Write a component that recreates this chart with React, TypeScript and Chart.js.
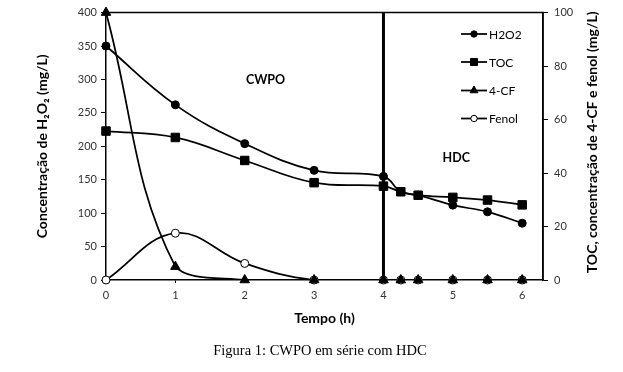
import React, { useEffect, useRef } from "react";
import { Chart, registerables } from "chart.js";
Chart.register(...registerables);

const times = [0, 1, 2, 3, 4, 4.25, 4.5, 5, 5.5, 6];
const h2o2 = [350, 262, 204, 164, 155, 132, 127, 112, 102, 85];
const toc = [55.7, 53.3, 44.7, 36.4, 35.1, 33, 31.7, 30.9, 29.9, 28.1];
const cf4 = [100, 5, 0, 0, 0, 0, 0, 0, 0, 0];
const fenol = [0, 17.5, 6.2, 0, 0, 0, 0, 0, 0, 0];
const xTicks = [0, 1, 2, 3, 4, 5, 6];
const seriesNames = ["H2O2", "TOC", "4-CF", "Fenol"];
const stageLabels = ["CWPO", "HDC"];
const divisionTime = 4;
const caption = "Figura 1: CWPO em série com HDC";
const leftTitle = "Concentração de H₂O₂ (mg/L)";
const rightTitle = "TOC, concentração de 4-CF e fenol (mg/L)";
const xTitle = "Tempo (h)";

const FONT = "Lato, 'Open Sans', sans-serif";

const pts = (ys: number[]) => times.map((t, i) => ({ x: t, y: ys[i] }));

const styles = [
  { style: "circle", radius: 4, bg: "#000", legendR: 3.2 },
  { style: "rect", radius: 6, bg: "#000", legendR: 5 },
  { style: "triangle", radius: 5.5, bg: "#000", legendR: 4.5 },
  { style: "circle", radius: 4, bg: "#fff", legendR: 3.2 },
];

function drawMarker(ctx: CanvasRenderingContext2D, style: string, r: number, x: number, y: number, bg: string) {
  ctx.save();
  ctx.fillStyle = bg;
  ctx.strokeStyle = "#000";
  ctx.lineWidth = 1;
  ctx.beginPath();
  if (style === "circle") {
    ctx.arc(x, y, r, 0, Math.PI * 2);
  } else if (style === "rect") {
    const s = r * Math.SQRT1_2;
    ctx.rect(x - s, y - s, 2 * s, 2 * s);
  } else {
    const w = r * Math.cos(Math.PI / 6);
    ctx.moveTo(x, y - r);
    ctx.lineTo(x + w, y + r / 2);
    ctx.lineTo(x - w, y + r / 2);
    ctx.closePath();
  }
  ctx.fill();
  ctx.stroke();
  ctx.restore();
}

export default function App() {
  const ref = useRef<HTMLCanvasElement>(null);
  useEffect(() => {
    const canvas = ref.current!;
    const data = [h2o2, toc, cf4, fenol];
    const axes = ["y", "y1", "y1", "y1"];
    const pointSets = data.map((d, i) => ({
      label: seriesNames[i],
      data: pts(d),
      yAxisID: axes[i],
      showLine: false,
      pointStyle: styles[i].style,
      pointRadius: styles[i].radius,
      pointBackgroundColor: styles[i].bg,
      pointBorderColor: "#000",
      pointBorderWidth: 1,
      clip: false,
      order: 0,
    }));
    const lineSets = data.map((d, i) => ({
      label: seriesNames[i] + "_line",
      data: pts(d),
      yAxisID: axes[i],
      showLine: true,
      borderColor: "#000",
      borderWidth: 1.75,
      pointRadius: 0,
      tension: 0.4,
      order: 1,
    }));
    const divider = {
      label: "divider",
      data: [
        { x: divisionTime, y: 0 },
        { x: divisionTime, y: 400 },
      ],
      yAxisID: "y",
      showLine: true,
      borderColor: "#000",
      borderWidth: 3,
      pointRadius: 0,
      tension: 0,
      order: 2,
    };

    const decor = {
      id: "decor",
      beforeDatasetsDraw(chart: any) {
        const { ctx, chartArea: a } = chart;
        ctx.save();
        ctx.strokeStyle = "#000";
        ctx.lineWidth = 1.5;
        ctx.beginPath();
        ctx.moveTo(a.left, a.top);
        ctx.lineTo(a.right, a.top);
        ctx.lineTo(a.right, a.bottom);
        ctx.stroke();
        ctx.restore();
      },
      afterDraw(chart: any) {
        const { ctx, chartArea: a, scales } = chart;
        ctx.save();
        ctx.fillStyle = "#000";
        ctx.font = `bold 14px ${FONT}`;
        ctx.textAlign = "center";
        ctx.textBaseline = "middle";
        ctx.translate(592, (a.top + a.bottom) / 2 - 4);
        ctx.rotate(-Math.PI / 2);
        ctx.fillText(rightTitle, 0, 0);
        ctx.restore();

        ctx.save();
        ctx.fillStyle = "#000";
        ctx.font = `bold 12.5px ${FONT}`;
        ctx.textAlign = "center";
        ctx.textBaseline = "middle";
        ctx.fillText(stageLabels[0], scales.x.getPixelForValue(2.3), scales.y.getPixelForValue(299));
        ctx.fillText(stageLabels[1], scales.x.getPixelForValue(5.05), scales.y.getPixelForValue(182));

        const lx0 = 461, lx1 = 487, mx = 474;
        const rows = [34, 62, 90.5, 118.5];
        ctx.font = `12px ${FONT}`;
        ctx.textAlign = "left";
        rows.forEach((y, i) => {
          ctx.strokeStyle = "#000";
          ctx.lineWidth = 1.75;
          ctx.beginPath();
          ctx.moveTo(lx0, y);
          ctx.lineTo(lx1, y);
          ctx.stroke();
          drawMarker(ctx, styles[i].style, styles[i].legendR, mx, y, styles[i].bg);
          ctx.fillStyle = "#000";
          ctx.fillText(seriesNames[i], lx1 + 2, y + 1);
        });

        ctx.font = "14.5px 'Liberation Serif', 'Times New Roman', serif";
        ctx.textAlign = "center";
        ctx.fillStyle = "#000";
        ctx.fillText(caption, 320, 351);
        ctx.restore();
      },
    };

    const tickFont = { family: FONT, size: 11 };
    const chart = new Chart(canvas, {
      type: "scatter",
      data: { datasets: [...pointSets, ...lineSets, divider] as any },
      options: {
        animation: false,
        responsive: false,
        layout: { padding: { left: 0, right: 0, top: 10, bottom: 42 } },
        plugins: { legend: { display: false }, tooltip: { enabled: false } },
        scales: {
          x: {
            type: "linear",
            min: 0,
            max: 6.3,
            afterBuildTicks: (s: any) => {
              s.ticks = xTicks.map((v) => ({ value: v }));
            },
            afterFit: (s: any) => {
              s.height = 50;
            },
            grid: { drawOnChartArea: false, color: "#000", tickLength: 3 },
            border: { color: "#000", width: 1.5 },
            ticks: { color: "#333", font: tickFont, padding: 6 },
            title: {
              display: true,
              text: xTitle,
              color: "#000",
              font: { family: FONT, size: 14, weight: "bold" },
              padding: { top: 0, bottom: 3 },
            },
          },
          y: {
            type: "linear",
            position: "left",
            min: 0,
            max: 400,
            ticks: { stepSize: 50, color: "#333", font: tickFont, padding: 4 },
            afterFit: (s: any) => {
              s.width = 106;
            },
            grid: { drawOnChartArea: false, color: "#000", tickLength: 5 },
            border: { color: "#000", width: 1.5 },
            title: {
              display: true,
              text: leftTitle,
              color: "#000",
              font: { family: FONT, size: 14, weight: "bold" },
              padding: { top: 34, bottom: 0 },
            },
          },
          y1: {
            type: "linear",
            position: "right",
            min: 0,
            max: 100,
            ticks: { stepSize: 20, color: "#333", font: tickFont, padding: 6 },
            afterFit: (s: any) => {
              s.width = 80;
            },
            grid: { drawOnChartArea: false, color: "#000", tickLength: 5 },
            border: { color: "#000", width: 1.5 },
          },
        },
      } as any,
      plugins: [decor],
    });
    return () => chart.destroy();
  }, []);
  return (
    <div style={{ position: "absolute", left: 0, top: 0, width: 623, height: 372, background: "#fff" }}>
      <canvas ref={ref} width={623} height={372} />
    </div>
  );
}
